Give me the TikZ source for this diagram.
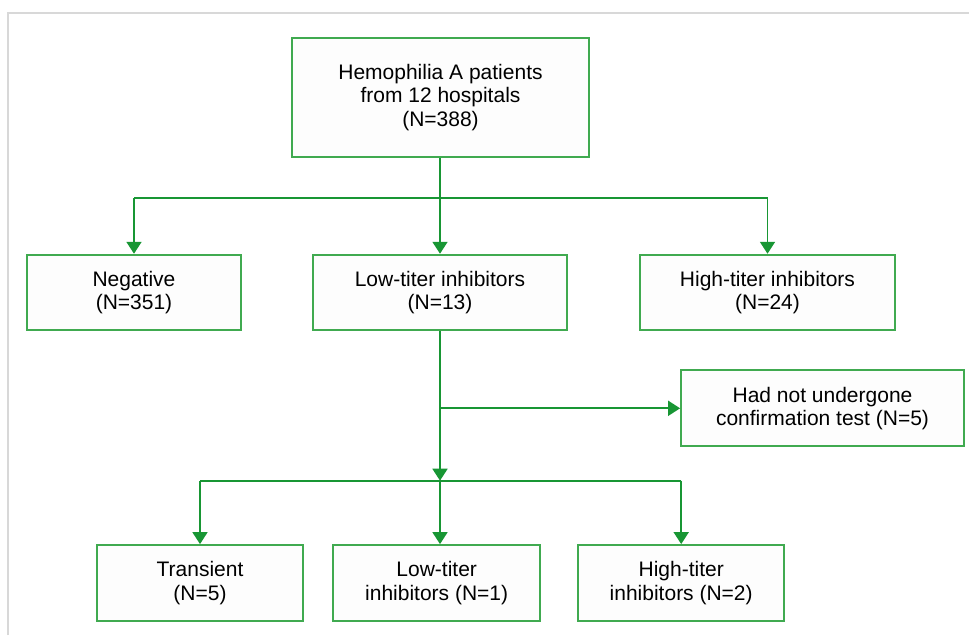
\documentclass[tikz,border=0pt]{standalone}
\usepackage{fontspec}
\setmainfont{Liberation Sans}
\usetikzlibrary{arrows.meta}
\definecolor{boxgreen}{RGB}{64,170,80}
\definecolor{arrowgreen}{RGB}{24,150,52}
\definecolor{framegray}{RGB}{216,216,216}
\definecolor{boxfill}{RGB}{253,253,253}
\begin{document}
\begin{tikzpicture}[x=1pt,y=-1pt,
  box/.style={draw=boxgreen, line width=1.8pt, fill=boxfill, align=center,
    inner sep=0pt, font=\fontsize{21}{23.3}\selectfont},
  conn/.style={draw=arrowgreen, line width=1.8pt},
  arr/.style={conn, -{Triangle[width=15pt,length=12pt]}}]
\useasboundingbox (0,0) rectangle (969,635);
\fill[white] (0,0) rectangle (969,635);
% frame
\draw[framegray, line width=2pt] (7.5,635) -- (7.5,12.7) -- (969,12.7);
% nodes
\node[box, minimum width=297.6pt, minimum height=118.4pt] (top) at (440.5,97.5)
  {Hemophilia A patients\\from 12 hospitals\\(N=388)};
\node[box, minimum width=213.4pt, minimum height=75.3pt] (neg) at (134,292.3)
  {Negative\\(N=351)};
\node[box, minimum width=254pt, minimum height=75.3pt] (low13) at (440,292.3)
  {Low-titer inhibitors\\(N=13)};
\node[box, minimum width=255pt, minimum height=75.3pt] (high24) at (767.5,292.3)
  {High-titer inhibitors\\(N=24)};
\node[box, minimum width=283pt, minimum height=76pt] (had) at (822.5,408.3)
  {Had not undergone\\confirmation test (N=5)};
\node[box, minimum width=206.6pt, minimum height=76pt] (trans) at (200,583)
  {Transient\\(N=5)};
\node[box, minimum width=206.7pt, minimum height=76pt] (low1) at (436.7,583)
  {Low-titer\\inhibitors (N=1)};
\node[box, minimum width=206.3pt, minimum height=76pt] (high2) at (681.2,583)
  {High-titer\\inhibitors (N=2)};
% junctions
\coordinate (j1) at (440,197.7);
\coordinate (j2) at (440,408.3);
\coordinate (j3) at (440,480.7);
% connectors
\draw[arr] (top.south -| j1) -- (j1 |- low13.north);
\draw[conn] (neg.north |- j1) -- (high24.north |- j1);
\draw[arr] (neg.north |- j1) -- (neg.north);
\draw[arr] (high24.north |- j1) -- (high24.north);
\draw[arr] (low13.south -| j3) -- (j3);
\draw[arr] (j2) -- (had.west);
\draw[conn] (trans.north |- j3) -- (high2.north |- j3);
\draw[arr] (trans.north |- j3) -- (trans.north);
\draw[arr] (j3) -- (j3 |- low1.north);
\draw[arr] (high2.north |- j3) -- (high2.north);
\end{tikzpicture}
\end{document}
